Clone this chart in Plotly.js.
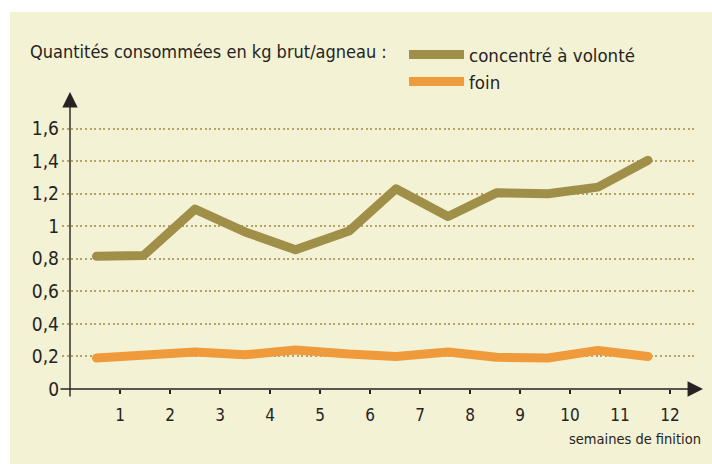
<!DOCTYPE html>
<html>
<head>
<meta charset="utf-8">
<script src="https://cdn.plot.ly/plotly-3.0.1.min.js"></script>
<style>
  html, body { margin: 0; padding: 0; background: #ffffff; }
  #chart { width: 712px; height: 464px; }
  .scatterlayer .js-line { stroke-linecap: round; stroke-linejoin: round; }
</style>
</head>
<body>
<div id="chart"></div>
<script>
// ---- data ----
const weeks = [0.53, 1.47, 2.5, 3.5, 4.51, 5.58, 6.52, 7.56, 8.53, 9.56, 10.56, 11.56];
const concentre = [0.815, 0.82, 1.105, 0.965, 0.855, 0.97, 1.23, 1.06, 1.205, 1.2, 1.24, 1.405];
const foin = [0.19, 0.205, 0.227, 0.21, 0.24, 0.215, 0.2, 0.227, 0.195, 0.19, 0.237, 0.2];
const seriesNames = ["concentré à volonté", "foin"];
const xTickVals = [1, 2, 3, 4, 5, 6, 7, 8, 9, 10, 11, 12];
const xTickText = ["1", "2", "3", "4", "5", "6", "7", "8", "9", "10", "11", "12"];
const yTickVals = [0, 0.2, 0.4, 0.6, 0.8, 1, 1.2, 1.4, 1.6];
const yTickText = ["0", "0,2", "0,4", "0,6", "0,8", "1", "1,2", "1,4", "1,6"];
const titleText = "Quantités consommées en kg brut/agneau :";
const xTitleText = "semaines de finition";

const FONT = "'Liberation Sans Narrow', 'DejaVu Sans Condensed', 'Roboto', sans-serif";
const INK = "#262322";
const OLIVE = "#a08f48";
const ORANGE = "#f09b3b";
const CREAM = "#f3f2d4";

const traces = [
  { x: weeks, y: concentre, name: seriesNames[0], type: "scatter", mode: "lines",
    line: { color: OLIVE, width: 9 }, cliponaxis: false },
  { x: weeks, y: foin, name: seriesNames[1], type: "scatter", mode: "lines",
    line: { color: ORANGE, width: 9 }, cliponaxis: false }
];

const layout = {
  width: 712, height: 464,
  margin: { l: 62, r: 15, t: 96, b: 75 },
  paper_bgcolor: "#ffffff",
  plot_bgcolor: "rgba(0,0,0,0)",
  separators: ", ",
  font: { family: FONT, color: INK },
  showlegend: true,
  title: { text: titleText, x: 30 / 712, xanchor: "left", xref: "container",
           y: 1 - 52 / 464, yanchor: "middle", yref: "container",
           font: { family: FONT, size: 18, color: INK } },
  legend: { x: (404 - 62) / 635, xanchor: "left", y: (389 - 36) / 293, yanchor: "top",
            bgcolor: "rgba(0,0,0,0)", font: { family: FONT, size: 18.5, color: INK },
            itemwidth: 55, tracegroupgap: 0 },
  xaxis: { range: [-0.16, 12.54], tickvals: xTickVals, ticktext: xTickText,
           ticks: "outside", ticklen: 4, tickwidth: 1.3, tickcolor: INK,
           showgrid: false, zeroline: false, showline: false,
           ticklabelstandoff: 7, tickfont: { family: FONT, size: 17, color: INK } },
  xaxis2: { range: [-0.16, 12.54], overlaying: "x", anchor: "y", side: "bottom",
            tickvals: xTickVals, ticks: "inside", ticklen: 5, tickwidth: 1.3, tickcolor: INK,
            showticklabels: false, showgrid: false, zeroline: false, showline: false },
  yaxis: { range: [0, 1.8], tickvals: yTickVals, ticktext: yTickText,
           ticks: "", showline: false, zeroline: false,
           showgrid: true, gridcolor: "#b6a466", gridwidth: 2, griddash: "2px,2.6px",
           ticklabelstandoff: 2, tickfont: { family: FONT, size: 19, color: INK } },
  shapes: [
    { type: "rect", xref: "paper", yref: "paper", x0: -0.0819, x1: 1.1, y0: -0.3, y1: 1.2867,
      fillcolor: CREAM, line: { width: 0 }, layer: "below" }
  ],
  annotations: [
    // x axis with arrow
    { xref: "paper", yref: "paper", x: 1.0094, y: 0, text: "", showarrow: true,
      ax: -644, ay: 0, arrowhead: 2, arrowsize: 2.2, arrowwidth: 1.4, arrowcolor: INK },
    // y axis with arrow
    { xref: "x", yref: "paper", x: 0, y: 1.0137, text: "", showarrow: true,
      ax: 0, ay: 306, arrowhead: 2, arrowsize: 2.2, arrowwidth: 1.4, arrowcolor: INK },
    // x axis title
    { xref: "paper", yref: "paper", x: 1.0094, y: -0.172, xanchor: "right", yanchor: "middle",
      text: xTitleText, showarrow: false, font: { family: FONT, size: 14.5, color: INK } }
  ]
};

Plotly.newPlot("chart", traces, layout, { displayModeBar: false, staticPlot: true });
</script>
</body>
</html>
